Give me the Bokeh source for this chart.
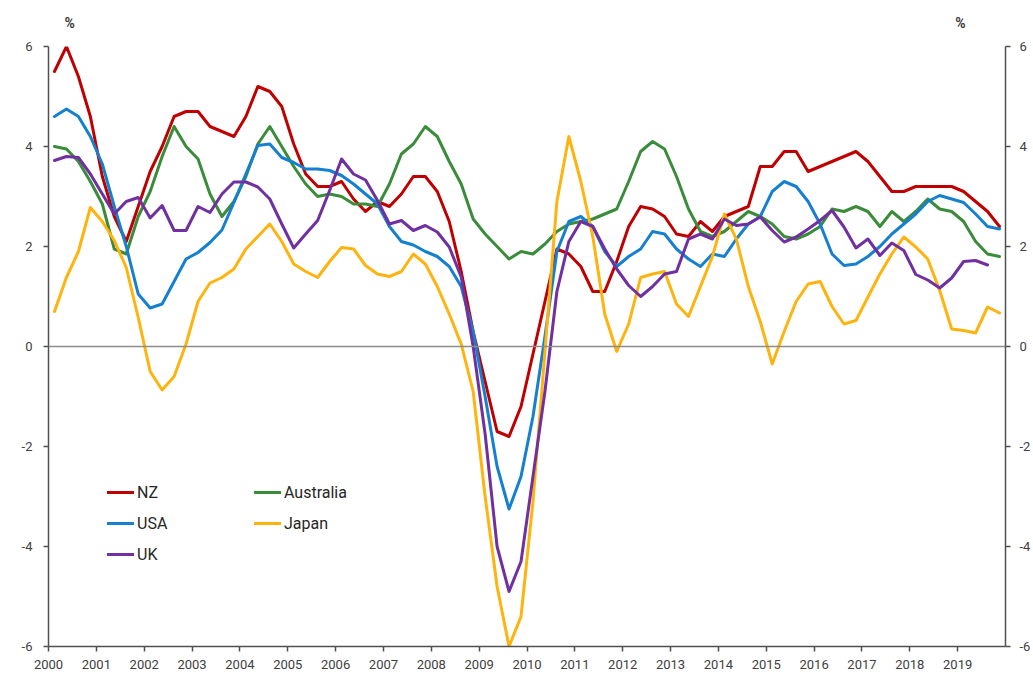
import numpy as np
from bokeh.plotting import figure
from bokeh.layouts import column
from bokeh.models import (Range1d, LinearAxis, FixedTicker, Span, Legend, LegendItem)
from bokeh.core.properties import value
from bokeh.embed import file_html
from bokeh.resources import INLINE

# Quarterly growth (%), 2000Q1 .. 2019Q4
nz = [5.5, 6.0, 5.4, 4.6, 3.4, 2.6, 2.1, 2.8, 3.5, 4.0,
      4.6, 4.7, 4.7, 4.4, 4.3, 4.2, 4.6, 5.2, 5.1, 4.8,
      4.05, 3.45, 3.2, 3.2, 3.3, 2.95, 2.7, 2.9, 2.8, 3.05,
      3.4, 3.4, 3.1, 2.5, 1.5, 0.3, -0.7, -1.7, -1.8, -1.2,
      -0.15, 0.9, 1.95, 1.85, 1.6, 1.1, 1.1, 1.7, 2.4, 2.8,
      2.75, 2.6, 2.25, 2.2, 2.5, 2.3, 2.6, 2.7, 2.8, 3.6,
      3.6, 3.9, 3.9, 3.5, 3.6, 3.7, 3.8, 3.9, 3.7, 3.4,
      3.1, 3.1, 3.2, 3.2, 3.2, 3.2, 3.1, 2.9, 2.7, 2.4]
australia = [4.0, 3.95, 3.7, 3.3, 2.85, 1.95, 1.85, 2.6, 3.1, 3.8,
             4.4, 4.0, 3.75, 3.05, 2.6, 2.9, 3.4, 4.05, 4.4, 4.0,
             3.6, 3.25, 3.0, 3.05, 3.0, 2.85, 2.85, 2.8, 3.25, 3.85,
             4.05, 4.4, 4.2, 3.7, 3.25, 2.55, 2.25, 2.0, 1.75, 1.9,
             1.85, 2.05, 2.3, 2.45, 2.5, 2.55, 2.65, 2.75, 3.3, 3.9,
             4.1, 3.95, 3.4, 2.75, 2.3, 2.2, 2.3, 2.5, 2.7, 2.6,
             2.45, 2.2, 2.15, 2.25, 2.4, 2.75, 2.7, 2.8, 2.7, 2.4,
             2.7, 2.5, 2.7, 2.95, 2.75, 2.7, 2.5, 2.1, 1.85, 1.8]
usa = [4.6, 4.75, 4.6, 4.2, 3.65, 2.8, 2.0, 1.05, 0.77, 0.85,
       1.3, 1.75, 1.88, 2.08, 2.33, 2.88, 3.45, 4.02, 4.05, 3.78,
       3.68, 3.55, 3.55, 3.52, 3.42, 3.25, 3.05, 2.85, 2.4, 2.1,
       2.03, 1.9, 1.8, 1.6, 1.2, 0.3, -1.0, -2.4, -3.25, -2.6,
       -1.4, 0.2, 1.9, 2.5, 2.6, 2.4, 1.9, 1.6, 1.8, 1.95,
       2.3, 2.25, 1.95, 1.75, 1.6, 1.85, 1.8, 2.15, 2.45, 2.6,
       3.1, 3.3, 3.2, 2.9, 2.45, 1.85, 1.62, 1.65, 1.8, 2.0,
       2.25, 2.45, 2.65, 2.9, 3.02, 2.95, 2.88, 2.65, 2.4, 2.35]
japan = [0.7, 1.38, 1.9, 2.78, 2.5, 2.12, 1.58, 0.58, -0.5, -0.87,
         -0.6, 0.05, 0.9, 1.27, 1.38, 1.55, 1.95, 2.2, 2.45, 2.1,
         1.65, 1.5, 1.38, 1.7, 1.98, 1.95, 1.62, 1.45, 1.4, 1.5,
         1.85, 1.65, 1.2, 0.65, 0.05, -0.9, -3.0, -4.8, -6.0, -5.4,
         -3.1, -0.1, 2.9, 4.2, 3.3, 2.2, 0.65, -0.1, 0.45, 1.38,
         1.45, 1.5, 0.85, 0.6, 1.2, 1.8, 2.65, 2.15, 1.2, 0.5,
         -0.35, 0.3, 0.9, 1.25, 1.3, 0.8, 0.45, 0.52, 0.99, 1.45,
         1.85, 2.19, 1.99, 1.75, 1.12, 0.35, 0.32, 0.27, 0.79, 0.67]
uk = [3.72, 3.8, 3.78, 3.45, 3.05, 2.65, 2.9, 2.98, 2.57, 2.82,
      2.32, 2.32, 2.8, 2.68, 3.05, 3.29, 3.29, 3.19, 2.95, 2.45,
      1.97, 2.25, 2.52, 3.12, 3.75, 3.45, 3.33, 2.92, 2.45, 2.52,
      2.32, 2.42, 2.29, 1.99, 1.39, 0.0, -1.75, -4.0, -4.9, -4.3,
      -2.6, -0.9, 1.1, 2.1, 2.5, 2.4, 1.95, 1.55, 1.22, 1.0,
      1.2, 1.45, 1.5, 2.15, 2.25, 2.15, 2.55, 2.42, 2.45, 2.59,
      2.32, 2.09, 2.19, 2.35, 2.52, 2.72, 2.39, 1.97, 2.15, 1.82,
      2.07, 1.92, 1.44, 1.33, 1.17, 1.37, 1.7, 1.72, 1.63]

year_ticks = list(range(2000, 2020))
y_ticks = [-6, -4, -2, 0, 2, 4, 6]
y_tick_labels = {t: str(t) for t in y_ticks}
series = [("NZ", nz, "#C00000"), ("Australia", australia, "#3A8C3A"),
          ("USA", usa, "#1580D0"), ("Japan", japan, "#FFB30F"),
          ("UK", uk, "#7030A0")]
unit_label = "%"

FONT = "Roboto"
TXT = "#404040"
W = 1033
LEFT, RIGHT = 48, 28

# strip above the plot holding the two "%" unit labels
top = figure(width=W, height=38, output_backend="svg", toolbar_location=None,
             x_range=Range1d(2000, 2020), y_range=Range1d(0, 38),
             min_border_left=LEFT, min_border_right=RIGHT, min_border_top=0, min_border_bottom=0)
top.axis.visible = False
top.grid.visible = False
top.outline_line_color = None
top.text(x=[2000.44, 2019.06], y=[16, 16], text=[unit_label, unit_label],
         text_align="center", text_baseline="middle", text_font=value(FONT),
         text_font_size="14px", text_font_style="bold", text_color=TXT)

p = figure(width=W, height=637, output_backend="svg", toolbar_location=None,
           x_range=top.x_range, y_range=Range1d(-6, 6),
           min_border_left=LEFT, min_border_top=8, min_border_right=RIGHT, min_border_bottom=29)
p.outline_line_color = None
p.xgrid.visible = False
p.ygrid.visible = False

def style_axis(ax, standoff):
    ax.axis_line_color = "#505050"
    ax.axis_line_width = 1.5
    ax.major_tick_line_color = "#505050"
    ax.major_tick_line_width = 1.5
    ax.major_tick_out = 5
    ax.major_tick_in = 0
    ax.minor_tick_line_color = None
    ax.major_label_text_font = FONT
    ax.major_label_text_font_size = "13px"
    ax.major_label_text_color = TXT
    ax.major_label_standoff = standoff

p.xaxis.ticker = FixedTicker(ticks=year_ticks)
style_axis(p.xaxis[0], 8)
p.yaxis.ticker = FixedTicker(ticks=y_ticks)
p.yaxis.major_label_overrides = y_tick_labels
style_axis(p.yaxis[0], 11)

ry = LinearAxis(ticker=FixedTicker(ticks=y_ticks), major_label_overrides=y_tick_labels)
style_axis(ry, 9)
p.add_layout(ry, "right")

p.add_layout(Span(location=0, dimension="width", line_color="#8C8C8C", line_width=1.5))

renderers = {}
for name, vals, col in series:
    xs = [2000 + (i + 0.5) / 4 for i in range(len(vals))]
    r = p.line(xs, vals, line_color=col, line_width=3, line_join="round", line_cap="round")
    renderers[name] = r

def make_legend(names, loc):
    lg = Legend(items=[LegendItem(label=n, renderers=[renderers[n]]) for n in names],
                location=loc, orientation="vertical")
    lg.label_text_font = FONT
    lg.label_text_font_size = "16px"
    lg.label_text_color = "#262626"
    lg.glyph_width = 27
    lg.glyph_height = 20
    lg.label_height = 20
    lg.spacing = 11
    lg.padding = 0
    lg.margin = 0
    lg.label_standoff = 3
    lg.border_line_color = None
    lg.background_fill_alpha = 0
    return lg

p.add_layout(make_legend(["NZ", "USA", "UK"], (59, 82)))
p.add_layout(make_legend(["Australia", "Japan"], (206, 113)))

layout = column(top, p, spacing=0)
open("out.html", "w").write(file_html(layout, INLINE))
